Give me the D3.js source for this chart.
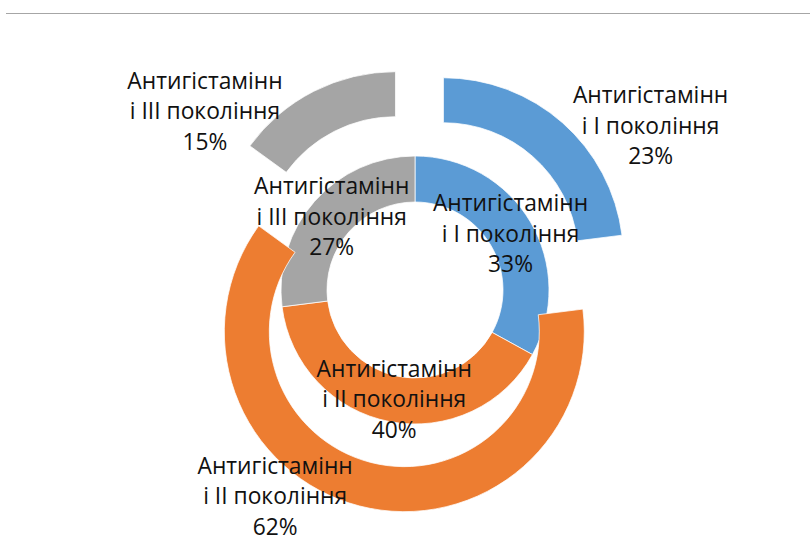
<!DOCTYPE html>
<html>
<head>
<meta charset="utf-8">
<script src="https://cdn.jsdelivr.net/npm/d3@7"></script>
<style>
  body { margin: 0; background: #fff; }
  text { font-family: "Open Sans", sans-serif; font-size: 22.8px; fill: #111; }
</style>
</head>
<body>
<div id="chart"></div>
<script>
// categories and values of both rings
var categories = ["Антигістамінн\nі І покоління", "Антигістамінн\nі ІІ покоління", "Антигістамінн\nі ІІІ покоління"];
var innerValues = [33, 40, 27];
var outerValues = [23, 62, 15];
var colors = ["#5b9bd5", "#ed7d31", "#a5a5a5"];

var width = 810, height = 558;
var cx = 415, cy = 290;
var explode = 43;

// label nudges (px) for the outer ring, away from the slice centroid
var outerNudge = [[103, -14], [-90, 12], [-119, 0]];

var svg = d3.select("#chart")
    .append("svg")
    .attr("width", width)
    .attr("height", height);

svg.append("line")
    .attr("x1", 6).attr("x2", width)
    .attr("y1", 13.5).attr("y2", 13.5)
    .style("stroke", "#a6a6a6")
    .style("stroke-width", 1);

var pie = d3.pie().sort(null).value(function(d) { return d; });

var innerArc = d3.arc().innerRadius(88).outerRadius(134);
var outerArc = d3.arc().innerRadius(135).outerRadius(180);

var g = svg.append("g")
    .attr("transform", "translate(" + cx + "," + cy + ")");

function offset(d) {
    var a = (d.startAngle + d.endAngle) / 2;
    return [explode * Math.sin(a), -explode * Math.cos(a)];
}

// inner ring
g.selectAll("path.inner")
    .data(pie(innerValues))
    .enter().append("path")
    .attr("class", "inner")
    .attr("d", innerArc)
    .style("fill", function(d, i) { return colors[i]; })
    .style("stroke", "#fff")
    .style("stroke-width", 0.75);

// outer ring, each slice pulled out
g.selectAll("path.outer")
    .data(pie(outerValues))
    .enter().append("path")
    .attr("class", "outer")
    .attr("transform", function(d) { var o = offset(d); return "translate(" + o[0] + "," + o[1] + ")"; })
    .attr("d", outerArc)
    .style("fill", function(d, i) { return colors[i]; })
    .style("stroke", "#fff")
    .style("stroke-width", 0.75);

function addLabel(pos, i, value) {
    var lines = categories[i].split("\n").concat([value + "%"]);
    var t = g.append("text")
        .attr("text-anchor", "middle")
        .attr("x", pos[0])
        .attr("y", pos[1]);
    lines.forEach(function(line, k) {
        t.append("tspan")
            .attr("x", pos[0])
            .attr("y", pos[1] + (k - 1) * 30.5 + 8)
            .text(line);
    });
}

pie(innerValues).forEach(function(d, i) {
    addLabel(innerArc.centroid(d), i, d.data);
});

pie(outerValues).forEach(function(d, i) {
    var c = outerArc.centroid(d), o = offset(d);
    addLabel([c[0] + o[0] + outerNudge[i][0], c[1] + o[1] + outerNudge[i][1]], i, d.data);
});
</script>
</body>
</html>
